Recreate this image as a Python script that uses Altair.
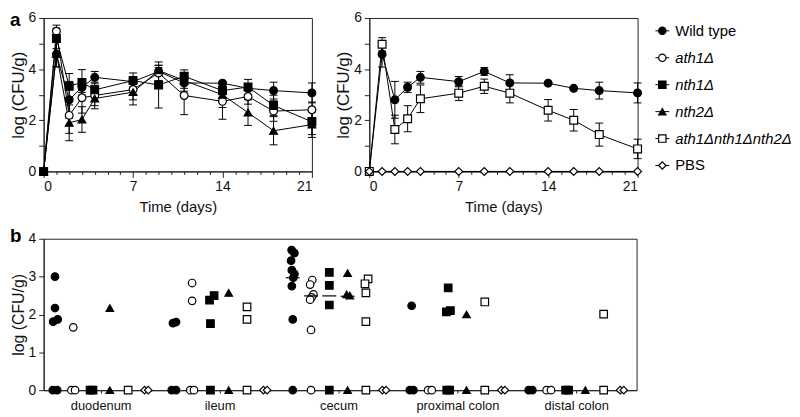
import altair as alt
import pandas as pd

FONT = "Liberation Sans"

# ---------------- panel a data ----------------
days = [0, 1, 2, 3, 4, 7, 9, 11, 14, 16, 18, 21]

wt_mean = [0, 4.58, 2.80, 3.29, 3.68, 3.51, 3.91, 3.46, 3.45, 3.25, 3.16, 3.07]
wt_sem = [0, 0.50, 0.72, 0.20, 0.23, 0.20, 0.15, 0.32, 0.05, 0.05, 0.33, 0.39]

ath1_mean = [0, 5.48, 2.19, 2.88, 2.97, 3.20, 3.85, 2.97, 2.74, 2.93, 2.36, 2.41]
ath1_sem = [0, 0.24, 0.70, 0.60, 0.40, 0.40, 0.30, 0.75, 0.70, 0.30, 0.40, 0.30]

nth1_mean = [0, 5.20, 3.33, 3.48, 3.19, 3.55, 3.38, 3.72, 3.16, 3.30, 2.58, 1.94]
nth1_sem = [0, 0.40, 0.50, 0.50, 0.30, 0.30, 0.90, 0.25, 0.30, 0.30, 0.40, 0.50]

nth2_mean = [0, 4.60, 1.90, 2.03, 2.85, 3.10, 3.95, 3.55, 3.00, 2.30, 1.59, 1.83]
nth2_sem = [0, 0.50, 0.70, 0.50, 0.40, 0.50, 0.20, 0.30, 0.50, 0.50, 0.55, 0.50]

triple_mean = [0, 4.97, 1.64, 2.06, 2.84, 3.06, 3.33, 3.06, 2.39, 2.00, 1.44, 0.88]
triple_sem = [0, 0.26, 0.56, 0.51, 0.54, 0.29, 0.28, 0.38, 0.42, 0.42, 0.45, 0.38]

pbs_mean = [0] * 12
pbs_sem = [0] * 12

strains = ["Wild type", "ath1Δ", "nth1Δ", "nth2Δ", "ath1Δnth1Δnth2Δ", "PBS"]
italic_flag = [0, 1, 1, 1, 1, 0]
shapes = ["circle", "circle", "square", "triangle-up", "square", "diamond"]
fills = ["black", "white", "black", "black", "white", "white"]

# ---------------- panel b data ----------------
sites = ["duodenum", "ileum", "cecum", "proximal colon", "distal colon"]

duodenum_strain = [0, 0, 0, 0, 0, 0, 1, 1, 1, 2, 2, 3, 3, 4, 5, 5]
duodenum_value = [3.00, 2.17, 1.87, 1.81, 0, 0, 1.66, 0, 0, 0, 0, 2.17, 0, 0, 0, 0]
duodenum_dx = [0, 0, 0.15, -0.1, -0.12, 0.12, 0, -0.1, 0.1, -0.08, 0.08, 0, 0, 0, -0.1, 0.1]

ileum_strain = [0, 0, 0, 0, 1, 1, 1, 1, 2, 2, 2, 2, 3, 3, 4, 4, 4, 5, 5]
ileum_value = [1.77, 1.80, 0, 0, 2.83, 2.36, 0, 0, 2.50, 2.38, 1.76, 0, 2.57, 0, 2.20, 1.87, 0, 0, 0]
ileum_dx = [-0.05, 0.12, -0.12, 0.12, 0, 0, -0.1, 0.1, 0.2, -0.05, 0, 0, 0, 0, 0, 0, 0, -0.1, 0.1]

cecum_strain = [0, 0, 0, 0, 0, 0, 0, 0, 0, 1, 1, 1, 1, 1, 1, 1, 2, 2, 2, 2, 3, 3, 3, 3, 4, 4, 4, 4, 4, 5, 5]
cecum_value = [3.70, 3.62, 3.42, 3.17, 3.07, 2.97, 2.75, 1.87, 0,
               2.91, 2.79, 2.53, 2.45, 2.39, 1.59, 0,
               3.11, 2.77, 2.25, 0,
               3.09, 2.53, 2.50, 0,
               2.94, 2.81, 2.57, 1.81, 0,
               0, 0]
cecum_dx = [-0.06, 0.09, -0.09, -0.05, 0.09, 0.03, -0.05, 0, 0,
            0.07, -0.05, 0.13, 0.03, -0.05, 0, 0,
            0, 0, 0, 0,
            0, -0.05, 0.12, 0,
            0.12, -0.05, 0, 0, 0,
            -0.1, 0.1]

proximal_strain = [0, 0, 0, 1, 1, 2, 2, 2, 2, 2, 3, 3, 4, 4, 5, 5]
proximal_value = [2.23, 0, 0, 0, 0, 2.70, 2.07, 2.10, 0, 0, 2.00, 0, 2.33, 0, 0, 0]
proximal_dx = [0, -0.1, 0.1, -0.1, 0.1, 0, -0.1, 0.12, -0.08, 0.08, 0, 0, 0, 0, -0.1, 0.1]

distal_strain = [0, 0, 1, 1, 2, 2, 3, 4, 4, 5, 5]
distal_value = [0, 0, 0, 0, 0, 0, 0, 2.01, 0, 0, 0]
distal_dx = [-0.1, 0.1, -0.12, 0.12, -0.08, 0.08, 0, 0, 0, -0.1, 0.1]

cecum_median_strain = [0, 1, 2, 3]
cecum_median_value = [2.97, 2.49, 2.49, 2.48]

GROUP_STEP = 6.5

# ---------------- shared encodings ----------------
shape_enc = alt.Shape("strain:N", scale=alt.Scale(domain=strains, range=shapes), legend=None)
fill_enc = alt.Fill("strain:N", scale=alt.Scale(domain=strains, range=fills), legend=None)

PW, PH = 271, 155
LETTER_X = -34


def time_panel(names, means, sems, letter):
    rows = []
    for name, m, s in zip(names, means, sems):
        for d, mv, sv in zip(days, m, s):
            rows.append(dict(day=d, strain=name, mean=mv, lo=mv - sv, hi=mv + sv, sem=sv))
    df = pd.DataFrame(rows)
    x_axis = alt.Axis(
        values=list(range(22)),
        labelExpr="datum.value % 7 === 0 ? datum.label : ''",
        tickSize={"condition": {"test": "datum.value % 7 === 0", "value": 6}, "value": 3},
        labelPadding=2,
        title="Time (days)",
        titleFontSize=15,
        titlePadding=7,
    )
    y_axis = alt.Axis(
        values=[0, 1, 2, 3, 4, 5, 6],
        labelExpr="datum.value % 2 === 0 ? datum.label : ''",
        tickSize=5,
        labelPadding=3,
        title="log (CFU/g)",
        titleFontSize=17,
        titlePadding=1,
    )
    xs = alt.Scale(domain=[0, 21], nice=False, zero=False)
    ys = alt.Scale(domain=[0, 6], nice=False)
    X = alt.X("day:Q", scale=xs, axis=x_axis)

    def Y(f):
        return alt.Y(f, scale=ys, axis=y_axis)

    base = alt.Chart(df)
    line = base.mark_line(color="black", strokeWidth=1).encode(x=X, y=Y("mean:Q"), detail="strain:N")
    errs = base.transform_filter("datum.sem > 0")
    rule = errs.mark_rule(color="black", strokeWidth=1).encode(x=X, y=Y("lo:Q"), y2="hi:Q")
    cap_lo = errs.mark_tick(orient="horizontal", size=8, thickness=1, color="black", opacity=1).encode(x=X, y=Y("lo:Q"))
    cap_hi = errs.mark_tick(orient="horizontal", size=8, thickness=1, color="black", opacity=1).encode(x=X, y=Y("hi:Q"))
    pts = base.mark_point(filled=True, size=62, stroke="black", strokeWidth=1.2, opacity=1).encode(
        x=X, y=Y("mean:Q"), shape=shape_enc, fill=fill_enc
    )
    layers = [line, rule, cap_lo, cap_hi, pts]
    if letter:
        lab = alt.Chart(pd.DataFrame({"t": [letter]})).mark_text(
            text=letter, font=FONT, fontSize=19, fontWeight="bold", align="left", baseline="top", color="black"
        ).encode(x=alt.value(LETTER_X), y=alt.value(-7))
        layers.append(lab)
    return alt.layer(*layers).properties(width=PW, height=PH)


left = time_panel(strains[:4], [wt_mean, ath1_mean, nth1_mean, nth2_mean],
                  [wt_sem, ath1_sem, nth1_sem, nth2_sem], "a")
right = time_panel([strains[0], strains[4], strains[5]], [wt_mean, triple_mean, pbs_mean],
                   [wt_sem, triple_sem, pbs_sem], None)

# ---------------- legend ----------------
leg_df = pd.DataFrame({"idx": list(range(6)), "strain": strains, "italic": italic_flag})
leg_y = alt.Y("idx:Q", scale=alt.Scale(domain=[-0.478, 5.22], reverse=True), axis=None)
leg_base = alt.Chart(leg_df)
leg_rule = leg_base.mark_rule(color="black", strokeWidth=1).encode(y=leg_y, x=alt.value(-40), x2=alt.value(-26))
leg_pts = leg_base.mark_point(filled=True, size=55, stroke="black", strokeWidth=1.2, opacity=1).encode(
    y=leg_y, x=alt.value(-33), shape=shape_enc, fill=fill_enc
)
leg_txt_n = leg_base.transform_filter("datum.italic == 0").mark_text(
    align="left", baseline="middle", font=FONT, fontSize=15, color="black"
).encode(y=leg_y, x=alt.value(-20), text="strain:N")
leg_txt_i = leg_base.transform_filter("datum.italic == 1").mark_text(
    align="left", baseline="middle", font=FONT, fontSize=15, fontStyle="italic", color="black"
).encode(y=leg_y, x=alt.value(-20), text="strain:N")
legend = alt.layer(leg_rule, leg_pts, leg_txt_n, leg_txt_i).properties(
    width=70, height=PH, view=alt.ViewBackground(strokeOpacity=0)
)

top = alt.hconcat(left, right, legend, spacing=58, bounds="flush")

# ---------------- panel b ----------------
brows = []
for gi, (st, va, dx) in enumerate([
    (duodenum_strain, duodenum_value, duodenum_dx),
    (ileum_strain, ileum_value, ileum_dx),
    (cecum_strain, cecum_value, cecum_dx),
    (proximal_strain, proximal_value, proximal_dx),
    (distal_strain, distal_value, distal_dx),
]):
    for s, v, d in zip(st, va, dx):
        brows.append(dict(site=sites[gi], strain=strains[s], value=v, pos=gi * GROUP_STEP + s + d))
bdf = pd.DataFrame(brows)

med_df = pd.DataFrame({
    "strain": [strains[i] for i in cecum_median_strain],
    "value": cecum_median_value,
    "pos": [2 * GROUP_STEP + i for i in cecum_median_strain],
})

centers = [gi * GROUP_STEP + 2.5 for gi in range(len(sites))]
site_arr = "[" + ",".join("'" + s + "'" for s in sites) + "]"
bx_scale = alt.Scale(domain=[-0.62, 31.8], nice=False, zero=False)
bx_axis = alt.Axis(values=centers, labelExpr=site_arr + "[round((datum.value - 2.5) / 6.5)]",
                   tickSize=3, labelPadding=7, labelFontSize=13, title=None)
by_scale = alt.Scale(domain=[0, 4], nice=False)
by_axis = alt.Axis(values=[0, 1, 2, 3, 4], tickSize=5, labelPadding=3, title="log (CFU/g)",
                   titleFontSize=16, titlePadding=2)

bpts = alt.Chart(bdf).mark_point(filled=True, size=58, stroke="black", strokeWidth=1.2, opacity=1).encode(
    x=alt.X("pos:Q", scale=bx_scale, axis=bx_axis),
    y=alt.Y("value:Q", scale=by_scale, axis=by_axis),
    shape=shape_enc, fill=fill_enc,
)
bmed = alt.Chart(med_df).transform_calculate(
    p1="datum.pos - 0.38", p2="datum.pos + 0.38"
).mark_rule(color="black", strokeWidth=1.2).encode(
    x=alt.X("p1:Q", scale=bx_scale, axis=bx_axis), x2="p2:Q",
    y=alt.Y("value:Q", scale=by_scale, axis=by_axis),
)
blab = alt.Chart(pd.DataFrame({"t": ["b"]})).mark_text(
    text="b", font=FONT, fontSize=19, fontWeight="bold", align="left", baseline="top", color="black"
).encode(x=alt.value(LETTER_X), y=alt.value(-12))
bottom = alt.layer(bpts, bmed, blab).properties(width=599, height=153)

chart = alt.vconcat(top, bottom, spacing=10).properties(
    padding={"left": 0, "top": 0, "right": 0, "bottom": 0}, background="white"
).configure_view(
    stroke="#222", strokeWidth=1
).configure_axis(
    domainColor="#222", tickColor="#222", labelColor="#111", titleColor="#111",
    labelFont=FONT, titleFont=FONT, titleFontWeight="normal", grid=False,
    labelFontSize=14, titleFontSize=16, domainWidth=1, tickWidth=1,
)

chart.save("out.html", embed_options={"renderer": "svg", "actions": False})
